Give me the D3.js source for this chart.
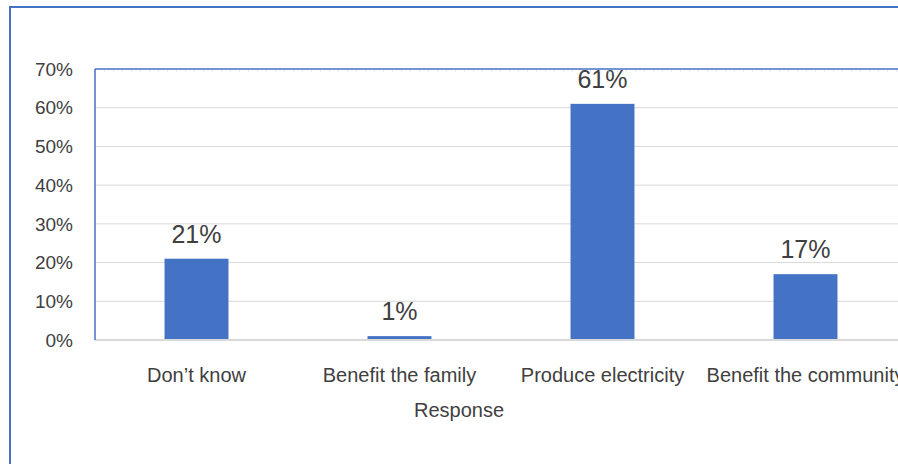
<!DOCTYPE html>
<html>
<head>
<meta charset="utf-8">
<script src="https://cdn.jsdelivr.net/npm/d3@7"></script>
<style>
  body { margin: 0; background: #fff; }
  svg text { font-family: "Liberation Sans", Arial, sans-serif; fill: #404040; }
</style>
</head>
<body>
<div id="chart"></div>
<script>
// data
var categories = ["Don\u2019t know", "Benefit the family", "Produce electricity", "Benefit the community"];
var values = [21, 1, 61, 17];
var yTicks = [0, 10, 20, 30, 40, 50, 60, 70];

var W = 898, H = 464;
var margin = {top: 69, left: 95, bottom: 124},
    width = 812,
    height = H - margin.top - margin.bottom;

var svg = d3.select("#chart")
  .append("svg")
    .attr("width", W)
    .attr("height", H);

// outer frame (cut off on right and bottom)
svg.append("path")
  .attr("d", "M10," + H + " L10,7 L" + W + ",7")
  .attr("fill", "none")
  .attr("stroke", "#4472c4")
  .attr("stroke-width", 2);

var g = svg.append("g")
  .attr("transform", "translate(" + margin.left + "," + margin.top + ")");

var x = d3.scaleBand()
  .domain(categories)
  .range([0, width])
  .paddingInner(0.685)
  .paddingOuter(0.3425);

var y = d3.scaleLinear()
  .domain([0, 70])
  .range([height, 0]);

// gridlines
g.selectAll(".grid")
  .data(yTicks.filter(function(d) { return d > 0 && d < 70; }))
  .enter().append("line")
    .attr("x1", 0).attr("x2", W)
    .attr("y1", function(d) { return y(d); })
    .attr("y2", function(d) { return y(d); })
    .attr("stroke", "#d9d9d9")
    .attr("stroke-width", 1);

// y tick labels
g.selectAll(".ylab")
  .data(yTicks)
  .enter().append("text")
    .attr("x", -22)
    .attr("y", function(d) { return y(d); })
    .attr("dy", "0.35em")
    .attr("text-anchor", "end")
    .style("font-size", "19px")
    .text(function(d) { return d + "%"; });

// bars
g.selectAll(".bar")
  .data(values)
  .enter().append("rect")
    .attr("x", function(d, i) { return x(categories[i]); })
    .attr("width", x.bandwidth())
    .attr("y", function(d) { return y(d); })
    .attr("height", function(d) { return height - y(d); })
    .attr("fill", "#4472c4");

// value labels
g.selectAll(".val")
  .data(values)
  .enter().append("text")
    .attr("x", function(d, i) { return x(categories[i]) + x.bandwidth() / 2; })
    .attr("y", function(d) { return y(d) - 16; })
    .attr("text-anchor", "middle")
    .style("font-size", "25px")
    .text(function(d) { return d + "%"; });

// x axis line
g.append("line")
  .attr("x1", 0).attr("x2", W)
  .attr("y1", height).attr("y2", height)
  .attr("stroke", "#d9d9d9")
  .attr("stroke-width", 2);

// plot frame top and left (blue)
g.append("line")
  .attr("x1", 0).attr("x2", W)
  .attr("y1", 0).attr("y2", 0)
  .attr("stroke", "#4472c4")
  .attr("stroke-width", 1.5);
g.append("line")
  .attr("x1", 0).attr("x2", W)
  .attr("y1", 2).attr("y2", 2)
  .attr("stroke", "#c9d4ea")
  .attr("stroke-width", 1)
  .attr("stroke-dasharray", "1,8");
g.append("line")
  .attr("x1", 0).attr("x2", 0)
  .attr("y1", 0).attr("y2", height)
  .attr("stroke", "#4472c4")
  .attr("stroke-width", 1.5);

// category labels
g.selectAll(".cat")
  .data(categories)
  .enter().append("text")
    .attr("x", function(d) { return x(d) + x.bandwidth() / 2; })
    .attr("y", height + 42)
    .attr("text-anchor", "middle")
    .style("font-size", "20px")
    .text(function(d) { return d; });

// axis title
svg.append("text")
  .attr("x", 459)
  .attr("y", 417)
  .attr("text-anchor", "middle")
  .style("font-size", "20px")
  .text("Response");
</script>
</body>
</html>
